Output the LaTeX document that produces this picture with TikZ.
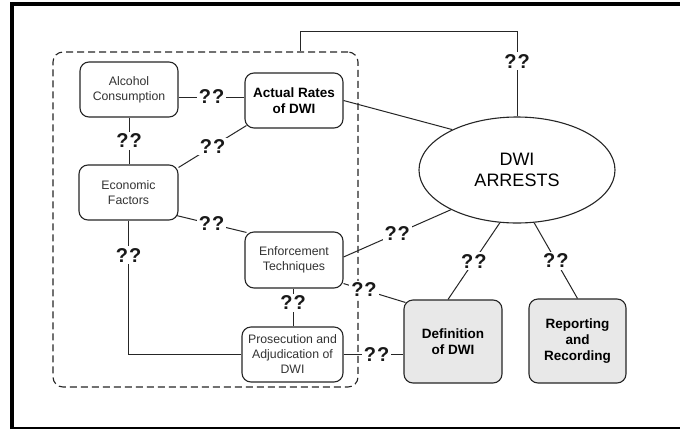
\documentclass[tikz,border=0pt]{standalone}
\usepackage{fontspec}
\setmainfont{Liberation Sans}
\usetikzlibrary{shapes.geometric,calc}
\begin{document}
\begin{tikzpicture}[x=1pt,y=-1pt,
  box/.style={draw=black!85,line width=1.1pt,rounded corners=9pt,align=center,inner sep=0pt,
    text=black!80,font=\fontsize{12.3}{15}\selectfont},
  boldbox/.style={box,text=black,font=\fontsize{13.5}{16}\selectfont\bfseries},
  shaded/.style={boldbox,fill=black!9},
  conn/.style={draw=black!85,line width=1pt},
  q/.style={fill=white,inner sep=2pt,font=\fontsize{20}{20}\selectfont\bfseries,text=black!90},
  grpbox/.style={draw=black!85,line width=1.1pt,dash pattern=on 7pt off 4pt,rounded corners=10pt,inner sep=0pt}]
\useasboundingbox (0,0) rectangle (680,429);
\fill[white] (0,0) rectangle (680,429);
% outer frame
\draw[line width=4pt] (12,429) -- (12,4) -- (680,4);
\draw[line width=1.5pt] (10,428) -- (680,428);
% group
\node[grpbox,minimum width=305pt,minimum height=335pt] (grp) at (205.5,219.5) {};
% boxes
\node[box,minimum width=98pt,minimum height=55pt] (alc) at (129,89.5) {Alcohol\\Consumption};
\node[boldbox,minimum width=98pt,minimum height=55pt] (act) at (294,100.5) {Actual Rates\\of DWI};
\node[box,minimum width=99pt,minimum height=55pt] (eco) at (128.5,192.5) {Economic\\Factors};
\node[box,minimum width=98pt,minimum height=56pt] (enf) at (294,260) {Enforcement\\Techniques};
\node[box,minimum width=101pt,minimum height=55pt] (pros) at (292.5,354.5) {Prosecution and\\Adjudication of\\DWI};
\node[shaded,minimum width=98pt,minimum height=83pt] (def) at (453,341.5) {Definition\\of DWI};
\node[shaded,minimum width=97pt,minimum height=84pt] (rep) at (577.5,341) {Reporting\\and\\Recording};
\node[draw=black!85,line width=1.1pt,ellipse,minimum width=196pt,minimum height=106pt,inner sep=0pt,
  align=center,font=\fontsize{18}{21}\selectfont] (ell) at (517,170) {DWI\\ARRESTS};
% connectors
\draw[conn] ([yshift=-7.5pt]alc.east) -- node[q]{?\kern1pt?} ([yshift=3.5pt]act.west);
\draw[conn] (alc.south) -- node[q]{?\kern1pt?} (alc.south |- eco.north);
\draw[conn] ($(eco.north east)+(0,3)$) -- node[q]{?\kern1pt?} ($(act.south west)+(2,-3)$);
\draw[conn] ($(eco.south east)+(-2,-5)$) -- node[q]{?\kern1pt?} ($(enf.north west)+(2,1)$);
\draw[conn] (eco.south) |- (pros.west) node[q,pos=0.13]{?\kern1pt?};
\draw[conn] ([xshift=-1pt]enf.south) -- node[q,pos=0.38]{?\kern1pt?} ([xshift=-1pt]enf.south |- pros.north);
\draw[conn] (act.east) -- (ell.148);
\draw[conn] ($(grp.north)+(94.5,0)$) -- ++(0,-20) -| (ell.north) node[q,pos=0.676]{?\kern1pt?};
\draw[conn] (ell.211) -- node[q]{?\kern1pt?} ([yshift=3pt]enf.east);
\draw[conn] ($(enf.south east)+(0,-5)$) -- node[q,pos=0.33]{?\kern1pt?} ($(def.north west)+(2,3)$);
\draw[conn] (pros.east) -- node[q,pos=0.55]{?\kern1pt?} (pros.east -| def.west);
\draw[conn] (ell.252) -- node[q]{?\kern1pt?} ($(def.north)+(-5,0)$);
\draw[conn] (ell.288) -- node[q]{?\kern1pt?} (rep.north);
\end{tikzpicture}
\end{document}
